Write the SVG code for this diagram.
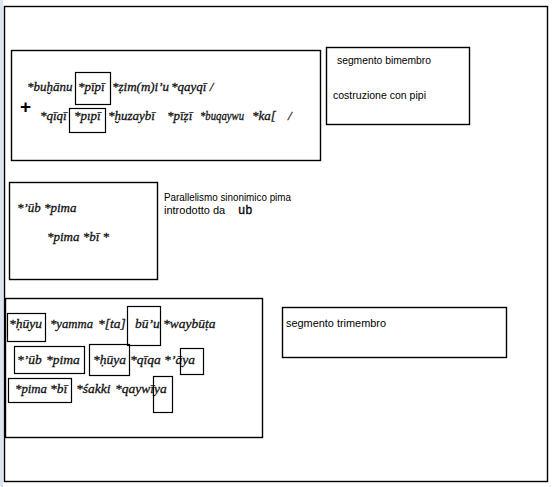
<svg xmlns="http://www.w3.org/2000/svg" width="554" height="487" viewBox="0 0 554 487">
<style>
.box{fill:none;stroke:#000;stroke-width:1.4}
.mark{fill:none;stroke:#000;stroke-width:1.2}
.tr{font-family:"Liberation Serif","DejaVu Serif",serif;font-style:italic;font-size:13px;fill:#111;stroke:#111;stroke-width:0.3}
.tr2{font-family:"Liberation Serif","DejaVu Serif",serif;font-style:italic;font-size:13.5px;fill:#111;stroke:#111;stroke-width:0.3}
.lab{font-family:"Liberation Sans",Arial,sans-serif;font-size:11px;fill:#000}
.mono{font-family:"Liberation Mono","DejaVu Sans Mono",monospace;font-size:12px;fill:#000;stroke:#000;stroke-width:0.3}
</style>
<rect x="0" y="0" width="554" height="487" fill="#fff"/>
<rect x="0" y="0" width="3" height="487" fill="#dde6f0"/>
<g id="frame"><rect class="box" x="4.5" y="6.5" width="543" height="475"/></g>

<g id="bimembro-text">
<rect class="box" x="11.5" y="50.5" width="309" height="110"/>
<text class="tr" x="27" y="91">*buḫānu</text>
<text class="tr" x="78" y="91">*pīpī</text>
<text class="tr" x="112" y="91">*ẓim(m)i’u</text>
<text class="tr" x="171" y="91">*qayqī /</text>
<text x="20" y="113" font-family="Liberation Sans,Arial,sans-serif" font-size="19" font-weight="bold" fill="#000">+</text>
<text class="tr" x="40" y="120">*qīqī</text>
<text class="tr" x="74" y="120">*pıpī</text>
<text class="tr" x="108" y="120">*ḫuzaybī</text>
<text class="tr" x="167" y="120">*pīẓī</text>
<text class="tr" x="200" y="120" textLength="44" lengthAdjust="spacingAndGlyphs">*buqaywu</text>
<text class="tr" x="252" y="120">*ka[</text>
<text class="tr" x="288" y="120">/</text>
<rect class="mark" x="75.5" y="72.5" width="35" height="32"/>
<rect class="mark" x="69.5" y="108.5" width="36" height="24"/>
</g>

<g id="bimembro-label">
<rect class="box" x="326.5" y="47.5" width="143" height="77"/>
<text class="lab" x="337" y="64" textLength="94" lengthAdjust="spacingAndGlyphs">segmento bimembro</text>
<text class="lab" x="333" y="99" textLength="93" lengthAdjust="spacingAndGlyphs">costruzione con pipi</text>
</g>

<g id="parallelismo-text">
<rect class="box" x="9.5" y="182.5" width="148" height="97"/>
<text class="tr" x="17" y="212">*’ūb</text>
<text class="tr" x="44" y="212">*pima</text>
<text class="tr" x="47" y="241">*pima *bī *</text>
</g>

<g id="parallelismo-label">
<text class="lab" x="164" y="201" textLength="127" lengthAdjust="spacingAndGlyphs">Parallelismo sinonimico pima</text>
<text class="lab" x="164" y="214">introdotto da</text>
<text class="mono" x="238" y="214">ub</text>
</g>

<g id="trimembro-text">
<rect class="box" x="5.5" y="298.5" width="257" height="139"/>
<text class="tr2" x="9" y="328">*ḥūyu</text>
<text class="tr2" x="50" y="328" textLength="43" lengthAdjust="spacingAndGlyphs">*yamma</text>
<text class="tr2" x="98" y="328">*[ta]</text>
<text class="tr2" x="135" y="328">bū’u</text>
<text class="tr2" x="163" y="328">*waybūṭa</text>
<text class="tr2" x="17" y="364">*’ūb</text>
<text class="tr2" x="46" y="364">*pima</text>
<text class="tr2" x="93" y="364">*ḥūya</text>
<text class="tr2" x="130" y="364">*qīqa</text>
<text class="tr2" x="164" y="364">*</text>
<text class="tr2" x="171" y="364">’āya</text>
<text class="tr2" x="15" y="393" textLength="32" lengthAdjust="spacingAndGlyphs">*pima</text>
<text class="tr2" x="50" y="393">*bī</text>
<text class="tr2" x="76" y="393">*śakki</text>
<text class="tr2" x="115" y="393">*qaywīya</text>
<rect class="mark" x="7.5" y="313.5" width="38" height="28"/>
<rect class="mark" x="127.5" y="306.5" width="33" height="39"/>
<rect class="mark" x="14.5" y="346.5" width="70" height="27"/>
<rect class="mark" x="89.5" y="344.5" width="40" height="31"/>
<rect class="mark" x="180.5" y="348.5" width="23" height="26"/>
<rect class="mark" x="8.5" y="378.5" width="63" height="24"/>
<rect class="mark" x="153.5" y="376.5" width="19" height="36"/>
</g>

<g id="trimembro-label">
<rect class="box" x="282.5" y="307.5" width="224" height="50"/>
<text class="lab" x="286" y="327" textLength="100" lengthAdjust="spacingAndGlyphs">segmento trimembro</text>
</g>

<g id="connectors"></g>
</svg>
